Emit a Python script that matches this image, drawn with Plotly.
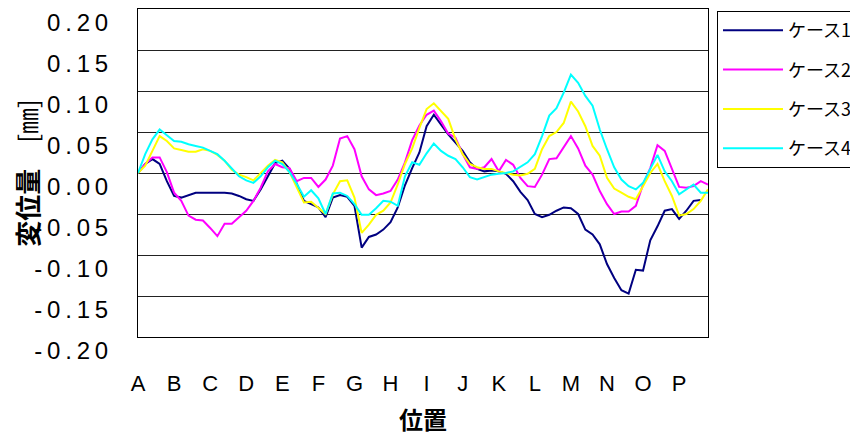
import plotly.graph_objects as go

# ---- data ----
positions = list(range(80))
tick_positions = [0, 5, 10, 15, 20, 25, 30, 35, 40, 45, 50, 55, 60, 65, 70, 75]
tick_labels = ["A", "B", "C", "D", "E", "F", "G", "H", "I", "J", "K", "L", "M", "N", "O", "P"]
y_ticks = [-0.20, -0.15, -0.10, -0.05, 0.00, 0.05, 0.10, 0.15, 0.20]
y_tick_labels = ["-0.20", "-0.15", "-0.10", "-0.05", "0.00", "0.05", "0.10", "0.15", "0.20"]
series_names = ["ケース1", "ケース2", "ケース3", "ケース4"]

case1 = [0, 0.011, 0.017, 0.011, -0.010, -0.028, -0.030, -0.027, -0.024, -0.024, -0.024, -0.024, -0.024, -0.025,
         -0.028, -0.032, -0.034, -0.020, -0.004, 0.012, 0.015, 0.005, -0.013, -0.034, -0.038, -0.042, -0.054,
         -0.030, -0.027, -0.029, -0.040, -0.091, -0.078, -0.075, -0.069, -0.060, -0.042, -0.015, 0.006, 0.025,
         0.057, 0.071, 0.059, 0.047, 0.037, 0.027, 0.013, 0.005, 0.002, 0.003, 0.002, -0.001, -0.010, -0.023,
         -0.033, -0.050, -0.054, -0.051, -0.046, -0.042, -0.043, -0.050, -0.069, -0.075, -0.087, -0.111, -0.128,
         -0.143, -0.147, -0.118, -0.119, -0.082, -0.065, -0.046, -0.044, -0.056, -0.046, -0.034, -0.033, None]
case2 = [0, 0.011, 0.019, 0.019, 0.001, -0.024, -0.034, -0.052, -0.057, -0.058, -0.067, -0.077, -0.062, -0.062,
         -0.054, -0.046, -0.034, -0.018, 0.002, 0.011, 0.007, 0.006, -0.010, -0.006, -0.006, -0.017, -0.008,
         0.009, 0.042, 0.045, 0.029, -0.004, -0.020, -0.027, -0.025, -0.022, -0.008, 0.013, 0.040, 0.058,
         0.071, 0.076, 0.063, 0.048, 0.043, 0.023, 0.007, 0.005, 0.007, 0.017, 0.002, 0.016, 0.010, -0.006,
         -0.016, -0.017, -0.002, 0.017, 0.018, 0.031, 0.045, 0.030, 0.009, -0.002, -0.022, -0.038, -0.050,
         -0.047, -0.047, -0.040, -0.014, 0.006, 0.034, 0.027, 0.006, -0.017, -0.018, -0.016, -0.010, -0.014]
case3 = [0, 0.009, 0.027, 0.045, 0.039, 0.030, 0.028, 0.026, 0.026, 0.029, 0.027, 0.022, 0.015, 0.004,
         -0.002, -0.005, -0.009, 0.000, 0.009, 0.016, 0.013, 0.001, -0.018, -0.036, -0.035, -0.042, -0.050,
         -0.026, -0.010, -0.009, -0.030, -0.073, -0.063, -0.051, -0.046, -0.036, -0.014, 0.011, 0.030, 0.055,
         0.078, 0.085, 0.075, 0.066, 0.041, 0.023, 0.011, 0.007, 0.005, 0.005, 0.002, 0.000, -0.002, -0.003,
         -0.001, 0.005, 0.029, 0.045, 0.050, 0.061, 0.087, 0.075, 0.057, 0.033, 0.021, -0.006, -0.019,
         -0.024, -0.029, -0.032, -0.016, 0.000, 0.011, -0.010, -0.028, -0.052, -0.050, -0.044, -0.034, -0.020]
case4 = [0, 0.023, 0.041, 0.053, 0.046, 0.039, 0.038, 0.035, 0.033, 0.031, 0.027, 0.023, 0.015, 0.005,
         -0.004, -0.009, -0.012, -0.004, 0.007, 0.015, 0.011, 0.001, -0.013, -0.029, -0.021, -0.031, -0.050,
         -0.025, -0.024, -0.028, -0.038, -0.051, -0.051, -0.043, -0.034, -0.035, -0.040, -0.004, 0.013, 0.010,
         0.024, 0.036, 0.027, 0.021, 0.017, 0.007, -0.005, -0.008, -0.005, -0.002, -0.001, 0.000, 0.002, 0.007,
         0.013, 0.023, 0.045, 0.070, 0.079, 0.098, 0.120, 0.110, 0.094, 0.082, 0.053, 0.029, 0.007,
         -0.008, -0.016, -0.020, -0.012, 0.005, 0.022, 0.002, -0.010, -0.026, -0.020, -0.014, -0.024, -0.024]
series_values = [case1, case2, case3, case4]
series_colors = ["#000080", "#FF00FF", "#FFFF00", "#00FFFF"]

fig = go.Figure()
for name, vals, col in zip(series_names, series_values, series_colors):
    fig.add_trace(go.Scatter(x=positions, y=vals, mode="lines", name=name, legendgroup=name,
                             line=dict(color=col, width=2), connectgaps=False))

spaced_y_labels = ["\u2009".join(lbl) for lbl in y_tick_labels]

fig.update_layout(
    width=850, height=430,
    margin=dict(l=130, r=150, t=1, b=101, autoexpand=False),
    paper_bgcolor="white", plot_bgcolor="white",
    showlegend=True,
    legend=dict(x=1.0158, y=0.994, xanchor="left", yanchor="top",
                bordercolor="black", borderwidth=1, bgcolor="white",
                font=dict(family="Noto Sans CJK JP", size=18, color="black"),
                itemwidth=60, traceorder="grouped", tracegroupgap=13),
    xaxis=dict(range=[0, 79], tickmode="array", tickvals=tick_positions, ticktext=tick_labels,
               showgrid=False, zeroline=False, ticks="", showline=True, linecolor="black",
               linewidth=1, mirror=True, ticklabelstandoff=27,
               tickfont=dict(family="Liberation Sans", size=22, color="black"),
               title=dict(text="<b>位置</b>", font=dict(family="Noto Sans CJK JP", size=24, color="black"),
                          standoff=16)),
    yaxis=dict(range=[-0.2, 0.2], tickmode="array", tickvals=y_ticks, ticktext=spaced_y_labels,
               showgrid=True, gridcolor="#222222", gridwidth=1, zeroline=False, ticks="",
               showline=True, linecolor="black", linewidth=1, mirror=True,
               ticklabelshift=14, ticklabelstandoff=24, ticklabeloverflow="allow",
               tickfont=dict(family="Liberation Sans", size=24, color="black"),
               title=dict(text="<b>変位量</b>　[㎜]",
                          font=dict(family="Noto Sans CJK JP", size=26, color="black"),
                          standoff=14)),
)

fig.write_html("out.html")
